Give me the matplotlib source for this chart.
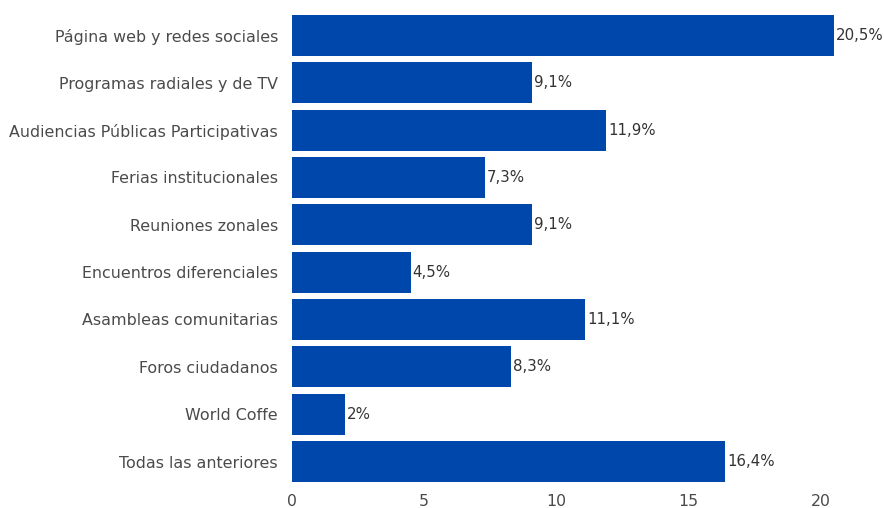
import matplotlib
matplotlib.use("Agg")
import matplotlib.pyplot as plt

categories = ["Página web y redes sociales", "Programas radiales y de TV",
              "Audiencias Públicas Participativas", "Ferias institucionales",
              "Reuniones zonales", "Encuentros diferenciales",
              "Asambleas comunitarias", "Foros ciudadanos", "World Coffe",
              "Todas las anteriores"]
values = [20.5, 9.1, 11.9, 7.3, 9.1, 4.5, 11.1, 8.3, 2.0, 16.4]
labels = ["20,5%", "9,1%", "11,9%", "7,3%", "9,1%", "4,5%", "11,1%", "8,3%", "2%", "16,4%"]
xticks = [0, 5, 10, 15, 20]

plt.rcParams['font.family'] = ['DejaVu Sans']

fig = plt.figure(figsize=(8.84, 5.08), dpi=100)
ax = fig.add_axes([0.3303, 0.0449, 0.6697, 0.9319])

ypos = list(range(len(categories)))
ax.barh(ypos, values, height=0.87, color="#0047AB")
for y, v, lab in zip(ypos, values, labels):
    ax.text(v + 0.07, y, lab, va="center", ha="left", fontsize=10.8, color="#333333")

ax.set_ylim(len(categories) - 0.5, -0.5)
ax.set_xlim(0, 22.4)
ax.set_yticks(ypos)
ax.set_yticklabels(categories, fontsize=11.4, color="#4a4a4a")
ax.set_xticks(xticks)
ax.set_xticklabels([str(t) for t in xticks], fontsize=11.3, color="#4a4a4a")
ax.tick_params(length=0, pad=10)
ax.tick_params(axis='x', pad=6)
for s in ax.spines.values():
    s.set_visible(False)

fig.savefig("out.png", dpi=100)
